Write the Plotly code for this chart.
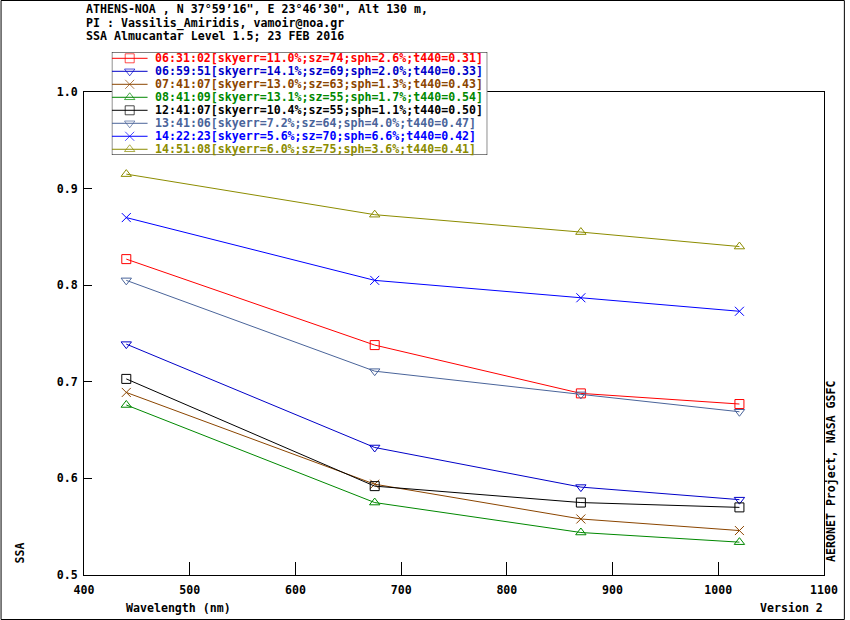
import plotly.graph_objects as go

# AERONET almucantar SSA, Athens-NOA, 23 Feb 2016
wavelength = [440, 675, 870, 1020]

ssa_063102 = [0.827, 0.738, 0.688, 0.677]
ssa_065951 = [0.739, 0.632, 0.591, 0.578]
ssa_074107 = [0.689, 0.594, 0.558, 0.546]
ssa_084109 = [0.676, 0.575, 0.544, 0.534]
ssa_124107 = [0.703, 0.592, 0.575, 0.570]
ssa_134106 = [0.805, 0.711, 0.687, 0.669]
ssa_142223 = [0.870, 0.805, 0.787, 0.773]
ssa_145108 = [0.915, 0.873, 0.855, 0.840]

labels = [
    "06:31:02[skyerr=11.0%;sz=74;sph=2.6%;t440=0.31]",
    "06:59:51[skyerr=14.1%;sz=69;sph=2.0%;t440=0.33]",
    "07:41:07[skyerr=13.0%;sz=63;sph=1.3%;t440=0.43]",
    "08:41:09[skyerr=13.1%;sz=55;sph=1.7%;t440=0.54]",
    "12:41:07[skyerr=10.4%;sz=55;sph=1.1%;t440=0.50]",
    "13:41:06[skyerr=7.2%;sz=64;sph=4.0%;t440=0.47]",
    "14:22:23[skyerr=5.6%;sz=70;sph=6.6%;t440=0.42]",
    "14:51:08[skyerr=6.0%;sz=75;sph=3.6%;t440=0.41]",
]
values = [ssa_063102, ssa_065951, ssa_074107, ssa_084109,
          ssa_124107, ssa_134106, ssa_142223, ssa_145108]
colors = ["#FF0000", "#0000C8", "#8B4500", "#008800",
          "#000000", "#4A649A", "#0000FF", "#8C8C00"]
symbols = ["square-open", "triangle-down-open", "x-thin-open", "triangle-up-open",
           "square-open", "triangle-down-open", "x-thin-open", "triangle-up-open"]

FONT = dict(family="DejaVu Sans Mono", size=11.6, color="black", weight="bold")

# figure geometry in pixels (plot box 84..829 x 92..575)
W, H = 850, 620
L, R, T, B = 84, 21, 40, 45
PW, PH = W - L - R, H - T - B


def px(x):
    return (x - L) / PW


def py(y):
    return (H - B - y) / PH


fig = go.Figure()

for name, vals, c, sym in zip(labels, values, colors, symbols):
    fig.add_trace(go.Scatter(x=wavelength, y=vals, mode="lines+markers", name=name,
                             line=dict(color=c, width=1),
                             marker=dict(symbol=sym, size=9, color=c, line=dict(color=c, width=1))))

# hand-made legend on a hidden helper axis (rows 0..7)
for i, (name, c, sym) in enumerate(zip(labels, colors, symbols)):
    fig.add_trace(go.Scatter(x=[112, 130, 148], y=[i, i, i], mode="lines+markers",
                             xaxis="x2", yaxis="y2", hoverinfo="skip",
                             line=dict(color=c, width=1),
                             marker=dict(symbol=sym, size=[0, 9, 0], color=c,
                                         line=dict(color=c, width=1))))
    fig.add_annotation(x=153, y=i, xref="x2", yref="y2", text=name, showarrow=False,
                       xanchor="left", yanchor="middle", font=dict(FONT, color=c))

axis_style = dict(showline=True, linecolor="black", linewidth=1, mirror=True,
                  showgrid=False, zeroline=False, ticks="inside", tickcolor="black",
                  tickfont=FONT)

fig.update_layout(
    width=W, height=H, margin=dict(l=L, r=R, t=T, b=B),
    paper_bgcolor="white", plot_bgcolor="white", showlegend=False, font=FONT,
    xaxis=dict(axis_style, range=[400, 1100], tickvals=list(range(400, 1101, 100)),
               ticklen=13, ticklabelstandoff=4),
    yaxis=dict(axis_style, range=[0.5, 1.0], dtick=0.1, tickformat=".1f",
               ticklen=8, ticklabelstandoff=3, domain=[0, py(92)]),
    xaxis2=dict(domain=[px(112), px(490)], range=[112, 490], anchor="y2", visible=False),
    yaxis2=dict(domain=[py(155), py(52)], range=[7.44, -0.485], anchor="x2", visible=False),
)

fig.add_shape(type="rect", xref="x2", yref="y2", x0=112, x1=490, y0=-0.485, y1=7.44,
              line=dict(color="black", width=1), fillcolor="white", layer="below")
fig.add_shape(type="rect", xref="paper", yref="paper",
              x0=px(0.5), x1=px(849.5), y0=py(619.5), y1=py(0.5),
              line=dict(color="black", width=1), layer="above")

header = [
    ("ATHENS-NOA , N 37°59’16\", E 23°46’30\", Alt 130 m,", 9.5),
    ("PI : Vassilis_Amiridis, vamoir@noa.gr", 23.5),
    ("SSA Almucantar Level 1.5; 23 FEB 2016", 36.5),
]
for text, y in header:
    fig.add_annotation(x=px(84), y=py(y), xref="paper", yref="paper", text=text,
                       showarrow=False, xanchor="left", yanchor="middle", font=FONT)

fig.add_annotation(x=px(20), y=py(553), xref="paper", yref="paper", text="SSA",
                   textangle=-90, showarrow=False, xanchor="center", yanchor="middle", font=FONT)
fig.add_annotation(x=px(124), y=py(608), xref="paper", yref="paper", text="Wavelength (nm)",
                   showarrow=False, xanchor="left", yanchor="middle", font=FONT)
fig.add_annotation(x=px(830), y=py(608), xref="paper", yref="paper", text="Version 2",
                   showarrow=False, xanchor="right", yanchor="middle", font=FONT)
fig.add_annotation(x=px(836), y=py(471), xref="paper", yref="paper",
                   text="AERONET Project, NASA GSFC", textangle=-90,
                   showarrow=False, xanchor="center", yanchor="middle", font=FONT)

# the page body has an 8px default margin; drop it so the figure sits at 0,0
fig.write_html("out.html", config={"displayModeBar": False},
               post_script="document.body.style.margin='0';")
